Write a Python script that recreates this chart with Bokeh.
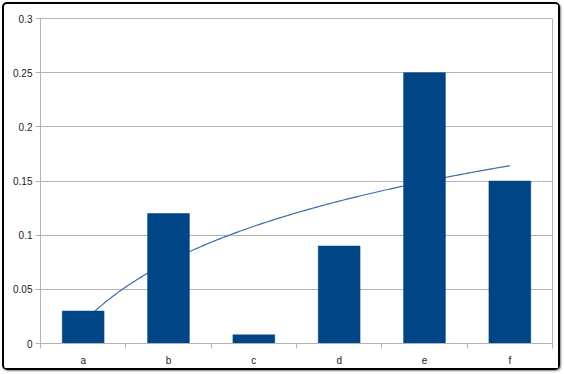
import numpy as np
from bokeh.plotting import figure
from bokeh.models import FixedTicker, Range1d, ColumnDataSource
from bokeh.embed import file_html
from bokeh.resources import INLINE

categories = ["a", "b", "c", "d", "e", "f"]
values = [0.03, 0.12, 0.008, 0.09, 0.25, 0.15]
y_ticks = [0, 0.05, 0.1, 0.15, 0.2, 0.25, 0.3]
y_tick_labels = ["0", "0.05", "0.1", "0.15", "0.2", "0.25", "0.3"]

xpos = list(range(1, len(categories) + 1))

# logarithmic trend line fitted to the bar values (least squares on ln x)
coef = np.polyfit(np.log(xpos), values, 1)
tx = np.linspace(1, len(categories), 200)
ty = coef[0] * np.log(tx) + coef[1]

p = figure(width=558, height=368, output_backend="svg", toolbar_location=None,
           x_range=Range1d(0.5, len(categories) + 0.5), y_range=Range1d(0, 0.3),
           min_border_left=36, min_border_right=10, min_border_top=14, min_border_bottom=29,
           styles={"margin": "2px 0 0 2px", "border": "2px solid #000", "border-radius": "5px",
                   "box-shadow": "1px 1px 2px rgba(0,0,0,0.5)"})

p.background_fill_color = "white"
p.border_fill_color = "white"
p.outline_line_color = "#b3b3b3"
p.outline_line_width = 1

# trend line (behind the bars)
p.line(tx, ty, line_color="#3a6ca6", line_width=1.2)

src = ColumnDataSource(dict(x=xpos, top=values))
p.vbar(x="x", top="top", width=0.49, bottom=0, source=src,
       fill_color="#004586", line_color="#004586", line_width=0.5)

p.xgrid.visible = False
p.ygrid.ticker = FixedTicker(ticks=y_ticks)
p.ygrid.grid_line_color = "#b3b3b3"

yax = p.yaxis[0]
yax.ticker = FixedTicker(ticks=y_ticks)
yax.major_label_overrides = {t: l for t, l in zip(y_ticks, y_tick_labels)}
yax.axis_line_color = "#b3b3b3"
yax.major_tick_line_color = "#b3b3b3"
yax.major_tick_out = 5
yax.major_tick_in = 0
yax.minor_tick_line_color = None
yax.major_label_text_font = "Liberation Sans"
yax.major_label_text_font_size = "10px"
yax.major_label_text_color = "#222222"
yax.major_label_standoff = 3

xax = p.xaxis[0]
xax.ticker = FixedTicker(ticks=xpos, minor_ticks=[i + 0.5 for i in range(0, len(categories) + 1)])
xax.major_label_overrides = {x: c for x, c in zip(xpos, categories)}
xax.axis_line_color = "#b3b3b3"
xax.major_tick_line_color = None
xax.major_tick_out = 0
xax.major_tick_in = 0
xax.minor_tick_line_color = "#b3b3b3"
xax.minor_tick_out = 5
xax.minor_tick_in = 0
xax.major_label_text_font = "Liberation Sans"
xax.major_label_text_font_size = "10px"
xax.major_label_text_color = "#222222"
xax.major_label_standoff = 6

open("out.html", "w").write(file_html(p, INLINE))
